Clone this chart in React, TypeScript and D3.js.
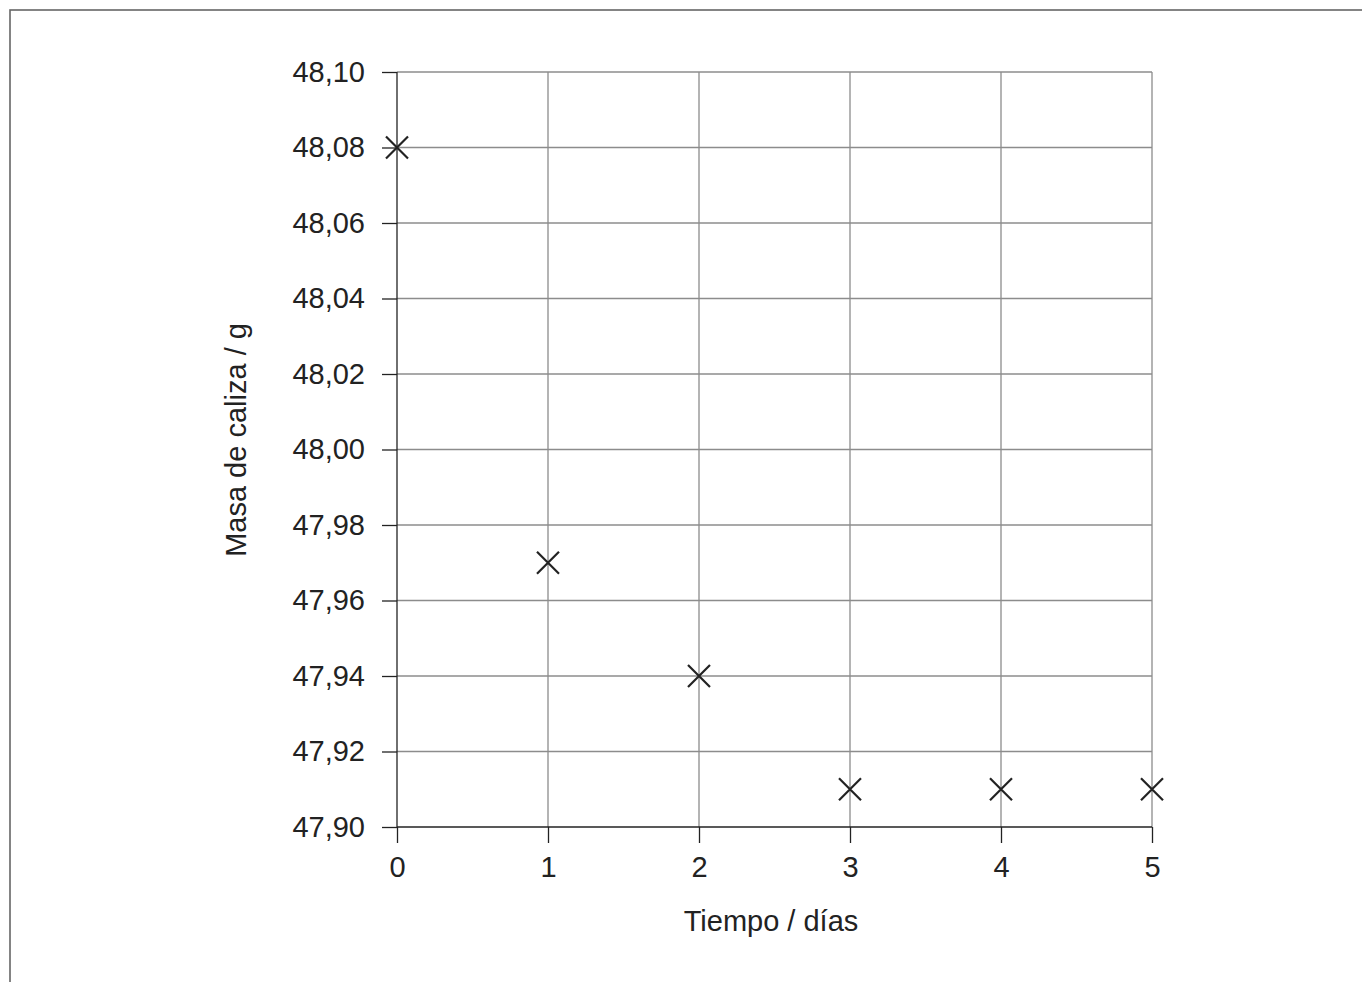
import React, { useEffect, useRef } from 'react';
import * as d3 from 'd3';

const days = [0, 1, 2, 3, 4, 5];
const masses = [48.08, 47.97, 47.94, 47.91, 47.91, 47.91];
const yTicks = [47.9, 47.92, 47.94, 47.96, 47.98, 48.0, 48.02, 48.04, 48.06, 48.08, 48.1];

const W = 1362;
const H = 982;

export default function App() {
  const ref = useRef<SVGSVGElement>(null);

  useEffect(() => {
    const svg = d3.select(ref.current);
    svg.selectAll('*').remove();

    const margin = { top: 72, left: 397, right: W - 1152, bottom: H - 827 };
    const innerW = W - margin.left - margin.right;
    const innerH = H - margin.top - margin.bottom;
    const font = 'Liberation Sans, Arial, sans-serif';
    const fs = '29px';

    // outer frame (open at right and bottom, like the cropped original)
    svg.append('rect')
      .attr('x', 10).attr('y', 10)
      .attr('width', W + 20).attr('height', H + 20)
      .attr('fill', 'none').attr('stroke', '#666').attr('stroke-width', 1.6);

    const g = svg.append('g').attr('transform', `translate(${margin.left},${margin.top})`);

    const x = d3.scaleLinear().domain([0, 5]).range([0, innerW]);
    const y = d3.scaleLinear().domain([47.9, 48.1]).range([innerH, 0]);

    // grid
    g.append('g').selectAll('line').data(days.slice(1)).join('line')
      .attr('x1', d => x(d)).attr('x2', d => x(d))
      .attr('y1', 0).attr('y2', innerH)
      .attr('stroke', '#8c8c8c').attr('stroke-width', 1.3);
    g.append('g').selectAll('line').data(yTicks.slice(1)).join('line')
      .attr('x1', 0).attr('x2', innerW)
      .attr('y1', d => y(d)).attr('y2', d => y(d))
      .attr('stroke', '#8c8c8c').attr('stroke-width', 1.3);

    // axes
    const yAxis = g.append('g')
      .call(d3.axisLeft(y).tickValues(yTicks).tickSize(15).tickPadding(17)
        .tickFormat(d => d3.format('.2f')(d as number).replace('.', ',')));
    const xAxis = g.append('g').attr('transform', `translate(0,${innerH})`)
      .call(d3.axisBottom(x).tickValues(days).tickSize(16).tickPadding(13).tickFormat(d3.format('d')));

    [yAxis, xAxis].forEach(a => {
      a.attr('font-size', null).attr('font-family', null);
      a.select('.domain').attr('stroke', '#222').attr('stroke-width', 1.3);
      a.selectAll('.tick line').attr('stroke', '#222').attr('stroke-width', 1.3);
      a.selectAll('text').attr('fill', '#222').style('font-size', fs).style('font-family', font);
    });
    yAxis.select('.domain').attr('d', `M0,${innerH}V0`);
    xAxis.select('.domain').attr('d', `M0,0H${innerW}`);

    // markers
    const s = 11;
    g.append('g').selectAll('path').data(days).join('path')
      .attr('d', (d, i) => {
        const cx = x(d), cy = y(masses[i]);
        return `M${cx - s},${cy - s}L${cx + s},${cy + s}M${cx - s},${cy + s}L${cx + s},${cy - s}`;
      })
      .attr('stroke', '#222').attr('stroke-width', 2.2).attr('fill', 'none');

    // titles
    svg.append('text')
      .attr('x', 771).attr('y', 931)
      .attr('text-anchor', 'middle')
      .style('font-size', fs).style('font-family', font).attr('fill', '#222')
      .text('Tiempo / días');
    svg.append('text')
      .attr('transform', `translate(246,440) rotate(-90)`)
      .attr('text-anchor', 'middle')
      .style('font-size', fs).style('font-family', font).attr('fill', '#222')
      .text('Masa de caliza / g');
  }, []);

  return (
    <svg ref={ref} width={W} height={H}
      style={{ position: 'absolute', left: 0, top: 0, background: '#fff' }} />
  );
}
